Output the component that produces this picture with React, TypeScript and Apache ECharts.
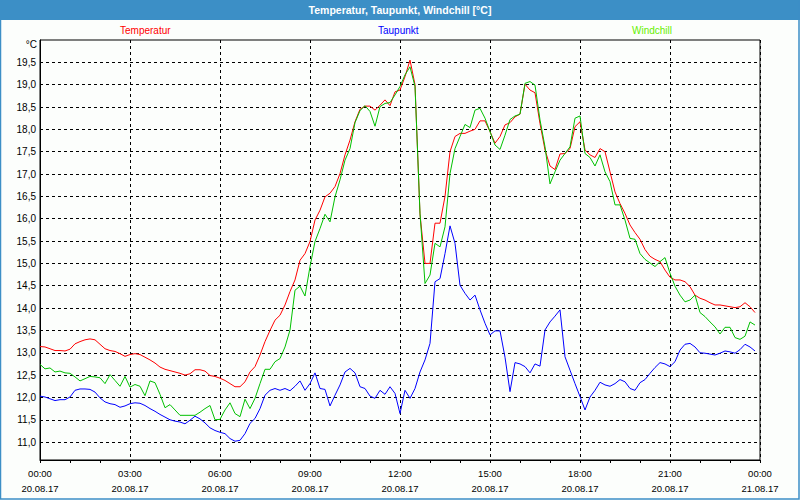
import React, { useEffect, useRef } from "react";
import * as echarts from "echarts";

// sampling: one value every 10 minutes, starting 20.08.17 00:00
const stepMinutes = 10;

const temperatur = [
  13.14, 13.13, 13.09, 13.05, 13.05, 13.04,
  13.08, 13.2, 13.25, 13.29, 13.31, 13.29,
  13.19, 13.09, 13.05, 13.03, 12.98, 12.92,
  12.96, 12.98, 12.96, 12.9, 12.84, 12.77,
  12.68, 12.63, 12.6, 12.57, 12.54, 12.5,
  12.53, 12.62, 12.62, 12.59, 12.49, 12.47,
  12.43, 12.38, 12.31, 12.24, 12.24, 12.35,
  12.57, 12.69, 12.95, 13.25, 13.5, 13.73,
  13.84, 14.07, 14.37, 14.63, 15.07, 15.22,
  15.49, 15.97, 16.19, 16.49, 16.57, 16.72,
  17.01, 17.43, 17.76, 18.17, 18.45, 18.52,
  18.52, 18.43, 18.54, 18.66, 18.53, 18.84,
  18.88, 19.18, 19.55, 19.0, 16.1, 15.0,
  15.0, 15.9, 15.9, 16.5, 17.5, 17.84,
  17.91, 17.91, 17.96, 18.0, 18.19, 18.19,
  17.95, 17.69, 17.84, 18.1, 18.15, 18.28,
  18.34, 19.01, 18.88, 18.82, 18.13, 17.54,
  17.18, 17.1, 17.45, 17.46, 17.57, 18.06,
  18.17, 17.54, 17.43, 17.37, 17.57, 17.5,
  17.05, 16.6, 16.34, 16.12, 15.86, 15.69,
  15.54, 15.31, 15.16, 15.09, 15.04, 14.85,
  14.69, 14.63, 14.63, 14.59, 14.48, 14.29,
  14.22, 14.18, 14.12, 14.07, 14.07, 14.05,
  14.03, 14.01, 14.03, 14.12, 14.03, 13.9,
];

const taupunkt = [
  12.03, 12.01, 11.97, 11.93, 11.95, 11.95,
  12.01, 12.16, 12.19, 12.19, 12.18, 12.12,
  11.99, 11.9, 11.86, 11.84, 11.78, 11.81,
  11.86, 11.88, 11.87, 11.82, 11.75, 11.69,
  11.62, 11.56, 11.5, 11.47, 11.45, 11.41,
  11.49, 11.58, 11.52, 11.43, 11.32, 11.26,
  11.22, 11.19, 11.08, 11.02, 11.04, 11.19,
  11.42, 11.53, 11.75, 12.05, 12.16, 12.2,
  12.16, 12.2, 12.15, 12.25, 12.37, 12.16,
  12.31, 12.55, 12.2, 12.18, 11.81, 12.05,
  12.28, 12.57, 12.65, 12.55, 12.24, 12.2,
  12.03, 11.98, 12.16, 12.07, 12.24, 12.09,
  11.64, 12.16, 11.98, 12.2, 12.57, 12.84,
  13.21, 14.59, 14.66, 15.22, 15.84, 15.45,
  14.51, 14.33, 14.18, 14.29, 13.96, 13.66,
  13.4, 13.49, 13.49, 12.9, 12.13, 12.78,
  12.75, 12.69, 12.55, 12.75, 12.7, 13.51,
  13.69, 13.82, 13.96, 12.91, 12.61, 12.31,
  12.02, 11.72, 12.01, 12.16, 12.34, 12.28,
  12.25, 12.31, 12.4, 12.35, 12.2, 12.16,
  12.33, 12.4, 12.54, 12.67, 12.78, 12.75,
  12.69, 12.8, 13.06, 13.19, 13.21, 13.13,
  13.0, 12.99, 12.97, 12.95, 12.99, 13.04,
  13.02, 12.99, 13.07, 13.19, 13.13, 13.04,
];

const windchill = [
  12.74, 12.64, 12.66, 12.57, 12.59, 12.55,
  12.54, 12.46, 12.37, 12.42, 12.47, 12.46,
  12.44, 12.31, 12.51, 12.38, 12.25, 12.47,
  12.23, 12.29, 12.25, 12.04, 12.37, 12.33,
  12.07, 11.77, 11.84, 11.72, 11.6, 11.6,
  11.6, 11.6, 11.67, 11.75, 11.82, 11.5,
  11.51, 11.72, 11.88, 11.64, 11.57, 11.96,
  11.75, 11.98, 12.31, 12.63, 12.63, 12.8,
  12.87, 13.13, 13.51, 14.4, 14.49, 14.27,
  14.93, 15.49, 15.78, 16.1, 15.93, 16.49,
  16.87, 17.31, 17.57, 18.15, 18.42, 18.53,
  18.4, 18.07, 18.51, 18.58, 18.6, 18.77,
  18.96, 19.22, 19.4, 18.96, 16.12, 14.55,
  14.74, 15.45, 15.37, 15.82, 17.01, 17.57,
  17.84, 18.11, 18.04, 18.43, 18.47, 18.25,
  17.95, 17.65, 17.55, 17.87, 18.22, 18.3,
  18.34, 19.03, 19.07, 18.99, 18.21, 17.61,
  16.78, 17.05, 17.31, 17.46, 17.61, 18.25,
  18.3, 17.46, 17.37, 17.18, 17.43, 17.05,
  16.83, 16.31, 16.31, 15.97, 15.56, 15.54,
  15.22, 15.09, 15.01, 14.93, 15.04, 15.13,
  14.78, 14.49, 14.29, 14.14, 14.18, 14.29,
  13.9, 13.81, 13.69, 13.58, 13.42, 13.57,
  13.57, 13.34, 13.3, 13.37, 13.69, 13.62,
];

const hourLabels = ["00:00", "03:00", "06:00", "09:00", "12:00", "15:00", "18:00", "21:00", "00:00"];
const dateLabels = ["20.08.17", "20.08.17", "20.08.17", "20.08.17", "20.08.17", "20.08.17", "20.08.17", "20.08.17", "21.08.17"];
const yTicks = [11.0, 11.5, 12.0, 12.5, 13.0, 13.5, 14.0, 14.5, 15.0, 15.5, 16.0, 16.5, 17.0, 17.5, 18.0, 18.5, 19.0, 19.5];

const FONT = "Liberation Sans";
const BLUE_BAR = "#3c8fc6";

export default function App() {
  const ref = useRef<HTMLDivElement>(null);

  useEffect(() => {
    if (!ref.current) return;
    const chart = echarts.init(ref.current, null, { renderer: "svg" });
    const toPoints = (arr: number[]) => arr.map((v, i) => [(i * stepMinutes) / 60, v]);
    const legendBase = {
      orient: "horizontal",
      itemWidth: 0,
      itemHeight: 12,
      itemGap: 0,
      padding: 0,
      top: 24,
      icon: "rect",
      itemStyle: { opacity: 0 },
      selectedMode: false,
    };
    chart.setOption({
      animation: false,
      backgroundColor: "#fcfefc",
      title: {
        text: "Temperatur, Taupunkt, Windchill [°C]",
        left: "center",
        top: 4,
        padding: 0,
        z: 10,
        textStyle: { color: "#ffffff", fontSize: 10.5, fontWeight: "bold", fontFamily: FONT },
      },
      legend: [
        { ...legendBase, left: 115, data: ["Temperatur"], textStyle: { color: "#ff0000", fontSize: 10, fontFamily: FONT } },
        { ...legendBase, left: 373, data: ["Taupunkt"], textStyle: { color: "#0000ff", fontSize: 10, fontFamily: FONT } },
        { ...legendBase, left: 627, data: ["Windchill"], textStyle: { color: "#66ee00", fontSize: 10, fontFamily: FONT } },
      ],
      graphic: [
        { type: "rect", z: 0, shape: { x: 0, y: 0, width: 800, height: 20 }, style: { fill: BLUE_BAR } },
        { type: "rect", z: 0, shape: { x: 0.5, y: 0.5, width: 798.5, height: 498.5 }, style: { fill: "none", stroke: BLUE_BAR, lineWidth: 1.5 } },
        { type: "text", z: 5, x: 37, y: 44.5, style: { text: "°C", fill: "#000", font: `10px "${FONT}"`, align: "right", verticalAlign: "middle" } },
      ],
      grid: {
        left: 40,
        right: 40,
        top: 40,
        bottom: 40,
        show: true,
        borderColor: "#000",
        borderWidth: 1,
        backgroundColor: "transparent",
      },
      xAxis: {
        type: "value",
        min: 0,
        max: 24,
        interval: 3,
        axisLine: { show: true, lineStyle: { color: "#000", width: 1 } },
        axisTick: { show: true, length: 3, lineStyle: { color: "#000" } },
        minorTick: { show: true, splitNumber: 3, length: 3, lineStyle: { color: "#000" } },
        splitLine: { show: true, lineStyle: { color: "#000", type: [3, 3], width: 1 } },
        axisLabel: {
          margin: 6,
          lineHeight: 15,
          color: "#000",
          fontSize: 9.5,
          fontFamily: FONT,
          showMinLabel: true,
          showMaxLabel: true,
          formatter: (v: number) => {
            const idx = Math.round(v / 3);
            return hourLabels[idx] + "\n" + dateLabels[idx];
          },
        },
      },
      yAxis: {
        type: "value",
        min: 10.6,
        max: 20.0,
        axisLine: { show: true, lineStyle: { color: "#000", width: 1 } },
        axisTick: { show: false, customValues: yTicks },
        splitLine: { show: true, lineStyle: { color: "#000", type: [3, 3], width: 1 } },
        axisLabel: {
          customValues: yTicks,
          margin: 4,
          color: "#000",
          fontSize: 10,
          fontFamily: FONT,
          formatter: (v: number) => v.toFixed(1).replace(".", ","),
        },
      },
      series: [
        {
          name: "Temperatur",
          type: "line",
          data: toPoints(temperatur),
          showSymbol: false,
          symbol: "none",
          lineStyle: { color: "#ff0000", width: 1 },
          itemStyle: { color: "#ff0000" },
        },
        {
          name: "Taupunkt",
          type: "line",
          data: toPoints(taupunkt),
          showSymbol: false,
          symbol: "none",
          lineStyle: { color: "#0000ff", width: 1 },
          itemStyle: { color: "#0000ff" },
        },
        {
          name: "Windchill",
          type: "line",
          data: toPoints(windchill),
          showSymbol: false,
          symbol: "none",
          lineStyle: { color: "#00c000", width: 1 },
          itemStyle: { color: "#00c000" },
        },
      ],
    });
    return () => chart.dispose();
  }, []);

  return (
    <div
      ref={ref}
      style={{ position: "absolute", left: 0, top: 0, width: 800, height: 500 }}
    />
  );
}
